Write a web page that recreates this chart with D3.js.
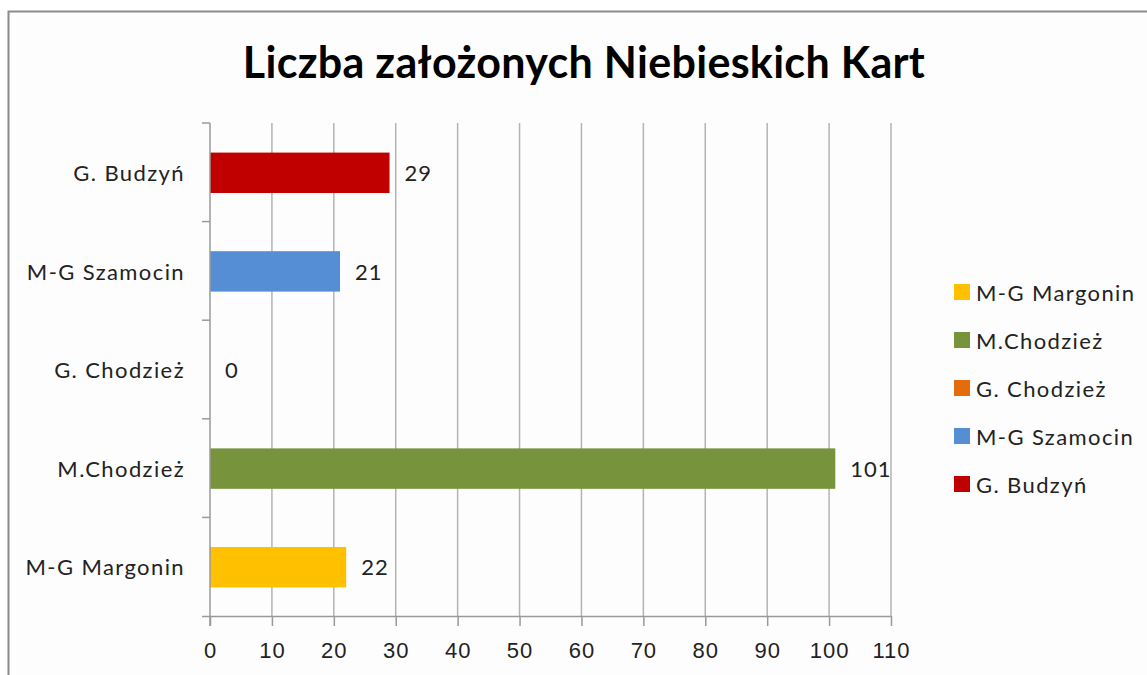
<!DOCTYPE html>
<html>
<head>
<meta charset="utf-8">
<script src="https://cdn.jsdelivr.net/npm/d3@7"></script>
<style>
  body { margin: 0; background: #fff; }
  svg { display: block; font-family: Lato, "Open Sans", sans-serif; }
</style>
</head>
<body>
<svg id="chart" width="1147" height="675"></svg>
<script>
// chart data
const categories = ['M-G Margonin', 'M.Chodzież', 'G. Chodzież', 'M-G Szamocin', 'G. Budzyń'];
const values = [22, 101, 0, 21, 29];
const colors = ['#FFC000', '#77933C', '#E46C0A', '#558ED5', '#C00000'];
const xTicks = [0, 10, 20, 30, 40, 50, 60, 70, 80, 90, 100, 110];
const title = 'Liczba założonych Niebieskich Kart';

const svg = d3.select('#chart');
const plot = { left: 210, right: 891, top: 123, bottom: 616 };
const labelSize = 22;
const spacing = 1.4; // reference text is wide, widen Lato a bit

// outer frame
svg.append('rect')
    .attr('x', 8.5).attr('y', 11.5)
    .attr('width', 1160).attr('height', 700)
    .attr('fill', '#fdfdfd')
    .attr('stroke', '#8c8c8c')
    .attr('stroke-width', 2);

svg.append('text')
    .attr('x', 584).attr('y', 78)
    .attr('text-anchor', 'middle')
    .attr('font-size', 43)
    .attr('font-weight', 'bold')
    .attr('letter-spacing', 0.3)
    .attr('fill', '#000')
    .text(title);

const x = d3.scaleLinear().domain([0, 110]).range([plot.left, plot.right]);
// top category first, like Excel's bar chart
const y = d3.scaleBand()
    .domain(categories.slice().reverse())
    .range([plot.top, plot.bottom])
    .paddingInner(0.59)
    .paddingOuter(0.295);

// vertical gridlines
svg.append('g')
    .selectAll('line')
    .data(xTicks.slice(1))
    .enter()
    .append('line')
    .attr('x1', d => x(d)).attr('x2', d => x(d))
    .attr('y1', plot.top).attr('y2', plot.bottom)
    .attr('stroke', '#b3b3b3')
    .attr('stroke-width', 1.5);

// bars
svg.append('g')
    .selectAll('rect')
    .data(categories)
    .enter()
    .append('rect')
    .attr('x', x(0))
    .attr('y', d => y(d) + 0.5)
    .attr('width', (d, i) => x(values[i]) - x(0))
    .attr('height', y.bandwidth())
    .attr('fill', (d, i) => colors[i]);

// value labels
svg.append('g')
    .selectAll('text')
    .data(categories)
    .enter()
    .append('text')
    .attr('x', (d, i) => x(values[i]) + 15)
    .attr('y', d => y(d) + y.bandwidth() / 2 + 1)
    .attr('dy', '0.35em')
    .attr('font-size', labelSize)
    .attr('letter-spacing', 1)
    .attr('fill', '#222')
    .text((d, i) => values[i]);

// x axis
const xAxis = svg.append('g')
    .attr('transform', `translate(0,${plot.bottom})`)
    .call(d3.axisBottom(x).tickValues(xTicks).tickSize(10).tickPadding(16).tickSizeOuter(0));
xAxis.select('.domain').attr('stroke', '#9a9a9a').attr('stroke-width', 1.5)
    .attr('d', `M${plot.left - 8},0.5H${plot.right}`);
xAxis.selectAll('.tick line').attr('stroke', '#9a9a9a').attr('stroke-width', 1.5);
xAxis.selectAll('.tick text')
    .attr('font-size', labelSize)
    .attr('letter-spacing', 1)
    .attr('fill', '#222')
    .attr('font-family', null);

// y axis
const yAxis = svg.append('g')
    .attr('transform', `translate(${plot.left},0)`);
yAxis.append('line')
    .attr('x1', 0).attr('x2', 0)
    .attr('y1', plot.top).attr('y2', plot.bottom + 10)
    .attr('stroke', '#9a9a9a').attr('stroke-width', 1.5);
const step = y.step();
yAxis.selectAll('line.tk')
    .data(d3.range(categories.length))
    .enter()
    .append('line')
    .attr('class', 'tk')
    .attr('x1', -8).attr('x2', 0)
    .attr('y1', i => plot.top + i * step).attr('y2', i => plot.top + i * step)
    .attr('stroke', '#9a9a9a').attr('stroke-width', 1.5);
yAxis.selectAll('text')
    .data(categories)
    .enter()
    .append('text')
    .attr('x', -25)
    .attr('y', d => y(d) + y.bandwidth() / 2 + 1)
    .attr('dy', '0.35em')
    .attr('text-anchor', 'end')
    .attr('font-size', labelSize)
    .attr('letter-spacing', spacing)
    .attr('fill', '#222')
    .text(d => d);

// legend
const legend = svg.append('g').attr('transform', 'translate(954,292)');
const items = legend.selectAll('g')
    .data(categories)
    .enter()
    .append('g')
    .attr('transform', (d, i) => `translate(0,${i * 48})`);
items.append('rect')
    .attr('x', 0).attr('y', -8)
    .attr('width', 16).attr('height', 16)
    .attr('fill', (d, i) => colors[i]);
items.append('text')
    .attr('x', 22).attr('y', 1)
    .attr('dy', '0.35em')
    .attr('font-size', labelSize)
    .attr('letter-spacing', spacing)
    .attr('fill', '#222')
    .text(d => d);
</script>
</body>
</html>
